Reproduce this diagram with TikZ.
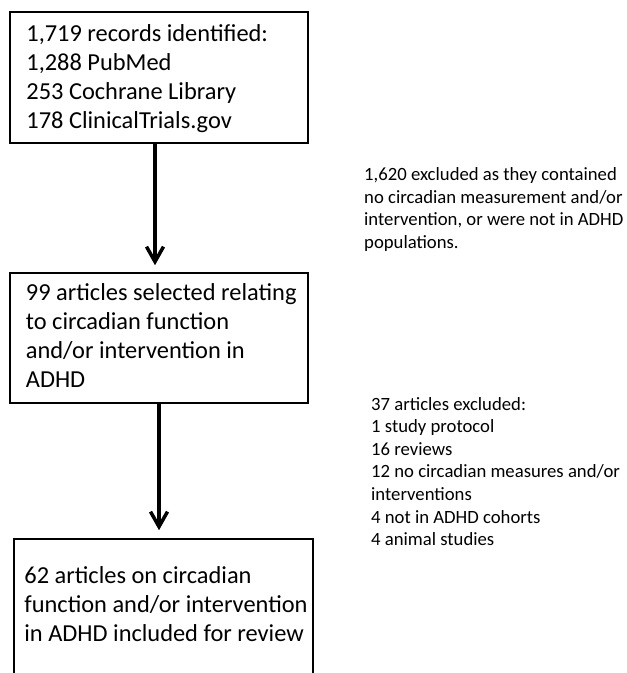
\documentclass[tikz,border=0pt]{standalone}
\usepackage{fontspec}
\setmainfont{Carlito}
\usetikzlibrary{positioning,arrows.meta}
\begin{document}
\begin{tikzpicture}[x=1pt, y=1pt, >={Straight Barb[length=15pt,width=17pt]},
    box/.style = {draw, line width=1.6pt, inner sep=0pt},
    boxtext/.style = {align=left, inner sep=0pt, font=\fontsize{24.4}{29}\selectfont},
    note/.style = {align=left, inner sep=0pt, font=\fontsize{18.7}{22.6}\selectfont},
    flow/.style = {->, line width=3.5pt}]
    \useasboundingbox (0,0) rectangle (627,-673);
    \clip (0,0) rectangle (627,-673);
    % boxes
    \node[box, minimum width=298pt, minimum height=131pt] (records) at (159,-77.5) {};
    \node[box, minimum width=298pt, minimum height=130pt] (selected) at (159,-338) {};
    \node[box, minimum width=299pt, minimum height=137pt] (included) at (163.5,-607.5) {};
    \node[boxtext, below right=13pt and 17pt of records.north west] (recordstext)
      {1,719 records identified:\\1,288 PubMed\\253 Cochrane Library\\178 ClinicalTrials.gov};
    \node[boxtext, below right=11pt and 16.5pt of selected.north west] (selectedtext)
      {99 articles selected relating\\to circadian function\\and/or intervention in\\ADHD};
    \node[boxtext, below right=28pt and 11pt of included.north west] (includedtext)
      {62 articles on circadian\\function and/or intervention\\in ADHD included for review};
    % exclusions
    \node[note, anchor=north west] (excl1) at (364,-167.5)
      {1,620 excluded as they contained\\no circadian measurement and/or\\intervention, or were not in ADHD\\populations.};
    \node[note, anchor=north west] (excl2) at (371,-397)
      {37 articles excluded:\\1 study protocol\\16 reviews\\12 no circadian measures and/or\\interventions\\4 not in ADHD cohorts\\4 animal studies};
    \draw[flow] ([xshift=-4pt]records.south) -- ([xshift=-4pt, yshift=7pt]selected.north);
    \draw[flow] (selected.south) -- ([xshift=-4.5pt, yshift=8pt]included.north);
  \end{tikzpicture}
\end{document}
